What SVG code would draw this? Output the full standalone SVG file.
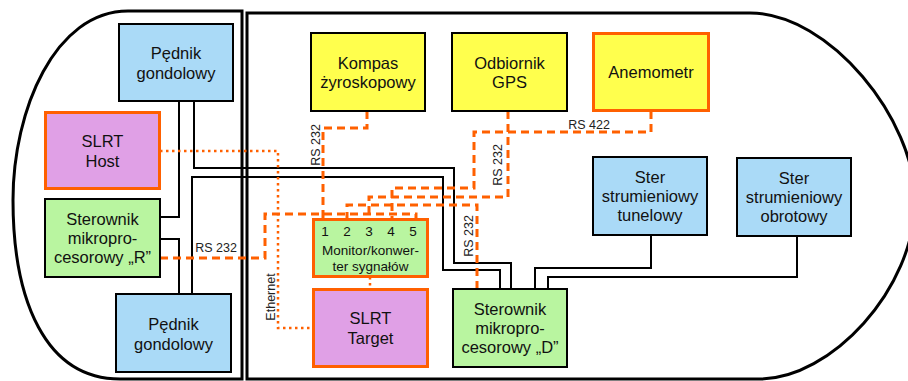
<svg xmlns="http://www.w3.org/2000/svg" width="908" height="381" viewBox="0 0 908 381">
<style>
.hull{fill:none;stroke:#000;stroke-width:3}
.box{stroke:#000;stroke-width:2}
.obox{stroke:#ff6000;stroke-width:3}
.blue{fill:#aadaf7}
.yel{fill:#ffff4d}
.grn{fill:#b9f5a0}
.pur{fill:#e0a0e6}
text{font-family:"Liberation Sans",Arial,sans-serif;fill:#111}
.t{font-size:16.5px;text-anchor:middle}
.s{font-size:13.5px;text-anchor:middle}
.l{font-size:12.5px;text-anchor:middle;fill:#222}
.wire{fill:none;stroke:#000;stroke-width:2}
.dash{fill:none;stroke:#ff6000;stroke-width:3;stroke-dasharray:8,5}
.dot{fill:none;stroke:#ff6000;stroke-width:2.5;stroke-dasharray:2.5,3.5}
</style>
<g id="hull">
<path class="hull" d="M242,11 L128,11 C55,11 13,110 13,200 C13,300 45,379 120,379 L242,379 Z"/>
<path class="hull" d="M247,13 L750,13 C830,13 915,120 915,200 C915,290 830,379 760,379 L247,379 Z"/>
</g>
<g id="connectors">
<path class="wire" d="M160,217 H179 V101"/>
<path class="wire" d="M194,101 V168 H454 V263 H511 V289"/>
<path class="wire" d="M192,294 V177 H443 V270 H500 V289"/>
<path class="wire" d="M160,239 H179 V294"/>
<path class="wire" d="M535,289 V268 H651 V235"/>
<path class="wire" d="M548,289 V277 H797 V236"/>
<path class="dash" d="M160,258 H265 V214 H416 V219"/>
<path class="dash" d="M367,111 V128 H323 V219"/>
<path class="dash" d="M508,111 V197 H369 V219"/>
<path class="dash" d="M651,111 V132 H474 V188 H392 V219"/>
<path class="dash" d="M477,289 V205 H347 V219"/>
<path class="dot" d="M160,151 H278 V328 H313"/>
<path class="dot" d="M370,277 V289"/>
<text class="l" x="216" y="252">RS 232</text>
<text class="l" x="589" y="129">RS 422</text>
<text class="l" transform="translate(320,145) rotate(-90)">RS 232</text>
<text class="l" transform="translate(502,165) rotate(-90)">RS 232</text>
<text class="l" transform="translate(473,236) rotate(-90)">RS 232</text>
<text class="l" transform="translate(275,297) rotate(-90)">Ethernet</text>
</g>
<g id="pednik-top">
<rect class="box blue" x="119" y="24" width="114" height="77"/>
<text class="t" x="176" y="59">Pędnik</text>
<text class="t" x="176" y="78.5">gondolowy</text>
</g>
<g id="slrt-host">
<rect class="obox pur" x="45.5" y="112.5" width="114" height="76"/>
<text class="t" x="102.5" y="147">SLRT</text>
<text class="t" x="102.5" y="166.5">Host</text>
</g>
<g id="sterownik-r">
<rect class="box grn" x="45" y="199" width="115" height="78"/>
<text class="t" x="102.5" y="225">Sterownik</text>
<text class="t" x="102.5" y="244">mikropro-</text>
<text class="t" x="102.5" y="263">cesorowy „R”</text>
</g>
<g id="pednik-bottom">
<rect class="box blue" x="116" y="294" width="115" height="78"/>
<text class="t" x="173.5" y="330">Pędnik</text>
<text class="t" x="173.5" y="349.5">gondolowy</text>
</g>
<g id="kompas">
<rect class="box yel" x="311" y="33" width="114" height="78"/>
<text class="t" x="368" y="68.5">Kompas</text>
<text class="t" x="368" y="88">żyroskopowy</text>
</g>
<g id="gps">
<rect class="box yel" x="452" y="33" width="115" height="78"/>
<text class="t" x="509.5" y="68.5">Odbiornik</text>
<text class="t" x="509.5" y="88">GPS</text>
</g>
<g id="anemometr">
<rect class="obox yel" x="593.5" y="33.5" width="115" height="77"/>
<text class="t" x="651" y="78">Anemometr</text>
</g>
<g id="ster-tunelowy">
<rect class="box blue" x="593" y="157" width="114" height="78"/>
<text class="t" x="650" y="183">Ster</text>
<text class="t" x="650" y="202">strumieniowy</text>
<text class="t" x="650" y="221">tunelowy</text>
</g>
<g id="ster-obrotowy">
<rect class="box blue" x="737" y="158" width="114" height="78"/>
<text class="t" x="794" y="184">Ster</text>
<text class="t" x="794" y="203">strumieniowy</text>
<text class="t" x="794" y="222">obrotowy</text>
</g>
<g id="monitor">
<rect class="obox grn" x="313.5" y="219.5" width="114" height="57"/>
<text class="s" x="325" y="236">1</text>
<text class="s" x="347" y="236">2</text>
<text class="s" x="369" y="236">3</text>
<text class="s" x="391" y="236">4</text>
<text class="s" x="413" y="236">5</text>
<text class="s" x="370.5" y="255">Monitor/konwer-</text>
<text class="s" x="370.5" y="271">ter sygnałów</text>
</g>
<g id="slrt-target">
<rect class="obox pur" x="313.5" y="289.5" width="114" height="77"/>
<text class="t" x="370.5" y="324">SLRT</text>
<text class="t" x="370.5" y="343.5">Target</text>
</g>
<g id="sterownik-d">
<rect class="box grn" x="453" y="289" width="114" height="78"/>
<text class="t" x="510" y="315">Sterownik</text>
<text class="t" x="510" y="334">mikropro-</text>
<text class="t" x="510" y="353">cesorowy „D”</text>
</g>
</svg>
